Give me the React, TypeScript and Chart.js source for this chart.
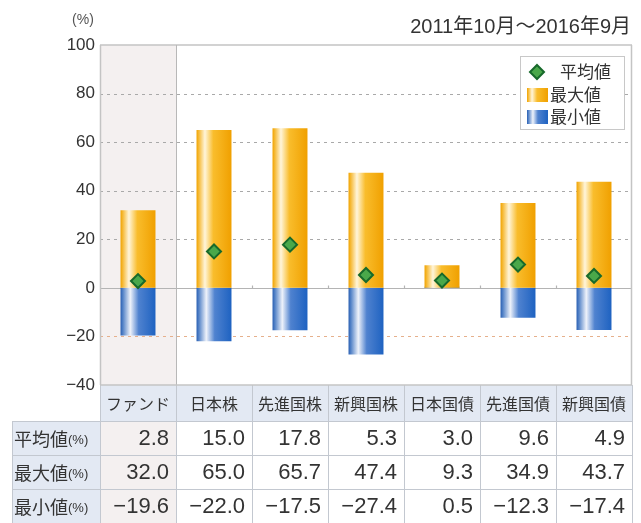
import React, { useEffect, useRef } from 'react';
import { Chart, registerables } from 'chart.js';

Chart.register(...registerables);

const categories = ['ファンド', '日本株', '先進国株', '新興国株', '日本国債', '先進国債', '新興国債'];
const avgValues = [2.8, 15.0, 17.8, 5.3, 3.0, 9.6, 4.9];
const maxValues = [32.0, 65.0, 65.7, 47.4, 9.3, 34.9, 43.7];
const minValues = [-19.6, -22.0, -17.5, -27.4, 0.5, -12.3, -17.4];
const yTickValues = [100, 80, 60, 40, 20, 0, -20, -40];
const seriesNames = ['平均値', '最大値', '最小値'];
const periodLabel = '2011年10月～2016年9月';
const unitLabel = '(%)';

const W = 641;
const H = 523;
const LATIN = '"Liberation Sans", "Noto Sans CJK JP", sans-serif';
const CJK = '"Noto Sans CJK JP", "Liberation Sans", sans-serif';
const BAR_PCT = 0.46;

const fmt = (v: number) => v.toFixed(1).replace('-', '\u2212');

function makeGradient(ctx: CanvasRenderingContext2D, x0: number, x1: number, kind: 'max' | 'min') {
  const g = ctx.createLinearGradient(x0, 0, x1, 0);
  if (kind === 'max') {
    g.addColorStop(0, '#f0a300');
    g.addColorStop(0.07, '#f6bb3a');
    g.addColorStop(0.24, '#fff5da');
    g.addColorStop(0.48, '#f9bd2c');
    g.addColorStop(1, '#f0a000');
  } else {
    g.addColorStop(0, '#2a5fb2');
    g.addColorStop(0.07, '#5584c8');
    g.addColorStop(0.28, '#eef2fa');
    g.addColorStop(0.52, '#4f82cf');
    g.addColorStop(1, '#1e62c1');
  }
  return g;
}

function barColor(kind: 'max' | 'min') {
  return (c: any) => {
    const chart = c.chart;
    const area = chart.chartArea;
    const xs = chart.scales?.x;
    if (!area || !xs || c.dataIndex === undefined) return kind === 'max' ? '#f5b000' : '#2a66c0';
    const colW = (area.right - area.left) / categories.length;
    const cx = xs.getPixelForValue(c.dataIndex);
    const hw = (colW * BAR_PCT) / 2;
    return makeGradient(chart.ctx, cx - hw, cx + hw, kind);
  };
}

const framePlugin = {
  id: 'frame',
  beforeDatasetsDraw(chart: any) {
    const { ctx, chartArea: a, scales } = chart;
    const y = scales.y;
    const xs = scales.x;
    const colW = (a.right - a.left) / categories.length;
    ctx.save();
    ctx.fillStyle = '#f4f0f0';
    ctx.fillRect(a.left, a.top, colW, a.bottom - a.top);
    yTickValues.forEach((v) => {
      if (v === 100 || v === 0 || v === -40) return;
      const py = Math.round(y.getPixelForValue(v)) + 0.5;
      ctx.beginPath();
      ctx.setLineDash([3, 4]);
      ctx.lineWidth = 1;
      ctx.strokeStyle = v === -20 ? '#e6b08c' : '#a9a9a9';
      ctx.moveTo(a.left, py);
      ctx.lineTo(a.right, py);
      ctx.stroke();
    });
    ctx.setLineDash([]);
    const y0 = Math.round(y.getPixelForValue(0)) + 0.5;
    ctx.strokeStyle = '#b4b4b4';
    ctx.lineWidth = 1.2;
    ctx.beginPath();
    ctx.moveTo(a.left, y0);
    ctx.lineTo(a.right, y0);
    ctx.stroke();
    for (let i = 2; i < categories.length; i++) {
      const bx = Math.round(xs.getPixelForValue(i) - colW / 2) + 0.5;
      ctx.beginPath();
      ctx.moveTo(bx, y0 - 3);
      ctx.lineTo(bx, y0);
      ctx.stroke();
    }
    ctx.strokeStyle = '#c4c4c4';
    ctx.lineWidth = 1.5;
    ctx.beginPath();
    ctx.moveTo(a.left, a.top);
    ctx.lineTo(a.right, a.top);
    ctx.moveTo(a.left + 0.5, a.top);
    ctx.lineTo(a.left + 0.5, a.bottom);
    ctx.moveTo(a.right - 0.5, a.top);
    ctx.lineTo(a.right - 0.5, a.bottom);
    ctx.stroke();
    const div = Math.round(a.left + colW) + 0.5;
    ctx.lineWidth = 1;
    ctx.strokeStyle = '#b8b8b8';
    ctx.beginPath();
    ctx.moveTo(div, a.top);
    ctx.lineTo(div, a.bottom);
    ctx.stroke();
    ctx.restore();
  },
  afterDraw(chart: any) {
    const { ctx, chartArea: a, scales } = chart;
    const xs = scales.x;
    const colW = (a.right - a.left) / categories.length;
    ctx.save();

    ctx.fillStyle = '#333';
    ctx.textBaseline = 'middle';
    ctx.textAlign = 'right';
    ctx.font = `20px ${LATIN}`;
    ctx.fillText(periodLabel, a.right - 1, 27);
    ctx.textAlign = 'center';
    ctx.font = `14px ${LATIN}`;
    ctx.fillStyle = '#555';
    ctx.fillText(unitLabel, 83, 20);

    // legend
    const lx = a.right - 112;
    const ly = a.top + 11;
    ctx.fillStyle = '#ffffff';
    ctx.fillRect(lx, ly, 104, 73);
    ctx.strokeStyle = '#c8c8c8';
    ctx.lineWidth = 1;
    ctx.strokeRect(lx + 0.5, ly + 0.5, 104, 73);
    const dx = lx + 17;
    const dy = ly + 16;
    ctx.beginPath();
    ctx.moveTo(dx, dy - 7);
    ctx.lineTo(dx + 7, dy);
    ctx.lineTo(dx, dy + 7);
    ctx.lineTo(dx - 7, dy);
    ctx.closePath();
    ctx.fillStyle = '#4aa84a';
    ctx.fill();
    ctx.strokeStyle = '#17692b';
    ctx.lineWidth = 2;
    ctx.stroke();
    ctx.fillStyle = makeGradient(ctx, lx + 7, lx + 28, 'max');
    ctx.fillRect(lx + 7, ly + 32, 21, 14);
    ctx.fillStyle = makeGradient(ctx, lx + 7, lx + 28, 'min');
    ctx.fillRect(lx + 7, ly + 54, 21, 14);
    ctx.fillStyle = '#333';
    ctx.textAlign = 'left';
    ctx.font = `17px ${CJK}`;
    ctx.fillText(seriesNames[0], lx + 40, dy);
    ctx.fillText(seriesNames[1], lx + 30, ly + 39);
    ctx.fillText(seriesNames[2], lx + 30, ly + 61);

    // table
    const top = a.bottom;
    const headerH = 36;
    const rowH = 34;
    const labelLeft = 12;
    const rows = [avgValues, maxValues, minValues];
    const border = '#c3c8d0';
    const headFill = '#e3e9f3';
    for (let i = 0; i < categories.length; i++) {
      const cx = xs.getPixelForValue(i);
      const l = cx - colW / 2;
      ctx.fillStyle = headFill;
      ctx.fillRect(l, top, colW, headerH);
      ctx.fillStyle = '#333';
      ctx.textAlign = 'center';
      ctx.font = `16px ${CJK}`;
      ctx.fillText(categories[i], cx, top + headerH / 2 + 1);
    }
    rows.forEach((vals, r) => {
      const ry = top + headerH + r * rowH;
      ctx.fillStyle = headFill;
      ctx.fillRect(labelLeft, ry, a.left - labelLeft, rowH);
      ctx.fillStyle = '#333';
      ctx.textAlign = 'left';
      ctx.font = `18px ${CJK}`;
      ctx.fillText(seriesNames[r], labelLeft + 2, ry + rowH / 2 + 1);
      const tw = ctx.measureText(seriesNames[r]).width;
      ctx.font = `13px ${LATIN}`;
      ctx.fillText(unitLabel, labelLeft + 2 + tw, ry + rowH / 2 + 2);
      vals.forEach((v, i) => {
        const cx = xs.getPixelForValue(i);
        const l = cx - colW / 2;
        ctx.fillStyle = i === 0 ? '#f4f0f0' : '#ffffff';
        ctx.fillRect(l, ry, colW, rowH);
        ctx.fillStyle = '#333';
        ctx.textAlign = 'right';
        ctx.font = `22px ${LATIN}`;
        ctx.fillText(fmt(v), l + colW - 7, ry + rowH / 2 + 1);
      });
    });
    ctx.strokeStyle = border;
    ctx.lineWidth = 1;
    ctx.beginPath();
    const bottom = top + headerH + rows.length * rowH;
    for (let r = 0; r <= rows.length; r++) {
      const yy = Math.round(top + headerH + r * rowH) + 0.5;
      ctx.moveTo(labelLeft, yy);
      ctx.lineTo(a.right, yy);
    }
    ctx.moveTo(labelLeft + 0.5, top + headerH);
    ctx.lineTo(labelLeft + 0.5, bottom);
    for (let i = 0; i <= categories.length; i++) {
      const bx = Math.round(a.left + i * colW) + 0.5;
      ctx.moveTo(bx, top);
      ctx.lineTo(bx, bottom);
    }
    ctx.stroke();
    ctx.strokeStyle = '#c4c4c4';
    ctx.lineWidth = 1.5;
    ctx.beginPath();
    ctx.moveTo(a.left, top);
    ctx.lineTo(a.right, top);
    ctx.stroke();
    ctx.restore();
  },
};

export default function App() {
  const ref = useRef<HTMLCanvasElement | null>(null);
  useEffect(() => {
    if (!ref.current) return;
    const chart = new Chart(ref.current, {
      type: 'bar',
      data: {
        labels: categories,
        datasets: [
          {
            type: 'line',
            label: seriesNames[0],
            data: avgValues,
            showLine: false,
            pointStyle: 'rectRot',
            pointRadius: 7,
            pointBackgroundColor: '#4aa84a',
            pointBorderColor: '#17692b',
            pointBorderWidth: 2,
            order: 0,
          } as any,
          {
            type: 'bar',
            label: seriesNames[1],
            data: maxValues.map((v) => [0, v]),
            backgroundColor: barColor('max'),
            borderWidth: 0,
            grouped: false,
            barPercentage: BAR_PCT,
            categoryPercentage: 1,
            order: 1,
          } as any,
          {
            type: 'bar',
            label: seriesNames[2],
            data: minValues.map((v) => [v, 0]),
            backgroundColor: barColor('min'),
            borderWidth: 0,
            grouped: false,
            barPercentage: BAR_PCT,
            categoryPercentage: 1,
            order: 2,
          } as any,
        ],
      },
      options: {
        responsive: false,
        animation: false,
        devicePixelRatio: 1,
        layout: { padding: { top: 45, right: 4, bottom: 138, left: 0 } },
        plugins: {
          legend: { display: false },
          tooltip: { enabled: false },
          title: { display: false },
        },
        scales: {
          x: {
            type: 'category',
            display: false,
            offset: true,
            grid: { display: false },
          },
          y: {
            min: -40,
            max: 100,
            afterFit: (s: any) => {
              s.width = 100;
            },
            afterBuildTicks: (s: any) => {
              s.ticks = yTickValues.slice().reverse().map((v) => ({ value: v }));
            },
            ticks: {
              padding: 5,
              color: '#333',
              font: { size: 17, family: LATIN },
              callback: (v: any) => String(v).replace('-', '\u2212'),
            },
            grid: { display: false, drawTicks: false, tickLength: 0 },
            border: { display: false },
          },
        },
      },
      plugins: [framePlugin],
    });
    return () => chart.destroy();
  }, []);
  return (
    <div style={{ position: 'absolute', left: 0, top: 0, width: W, height: H, background: '#fff' }}>
      <canvas ref={ref} width={W} height={H} style={{ width: W, height: H, display: 'block' }} />
    </div>
  );
}
